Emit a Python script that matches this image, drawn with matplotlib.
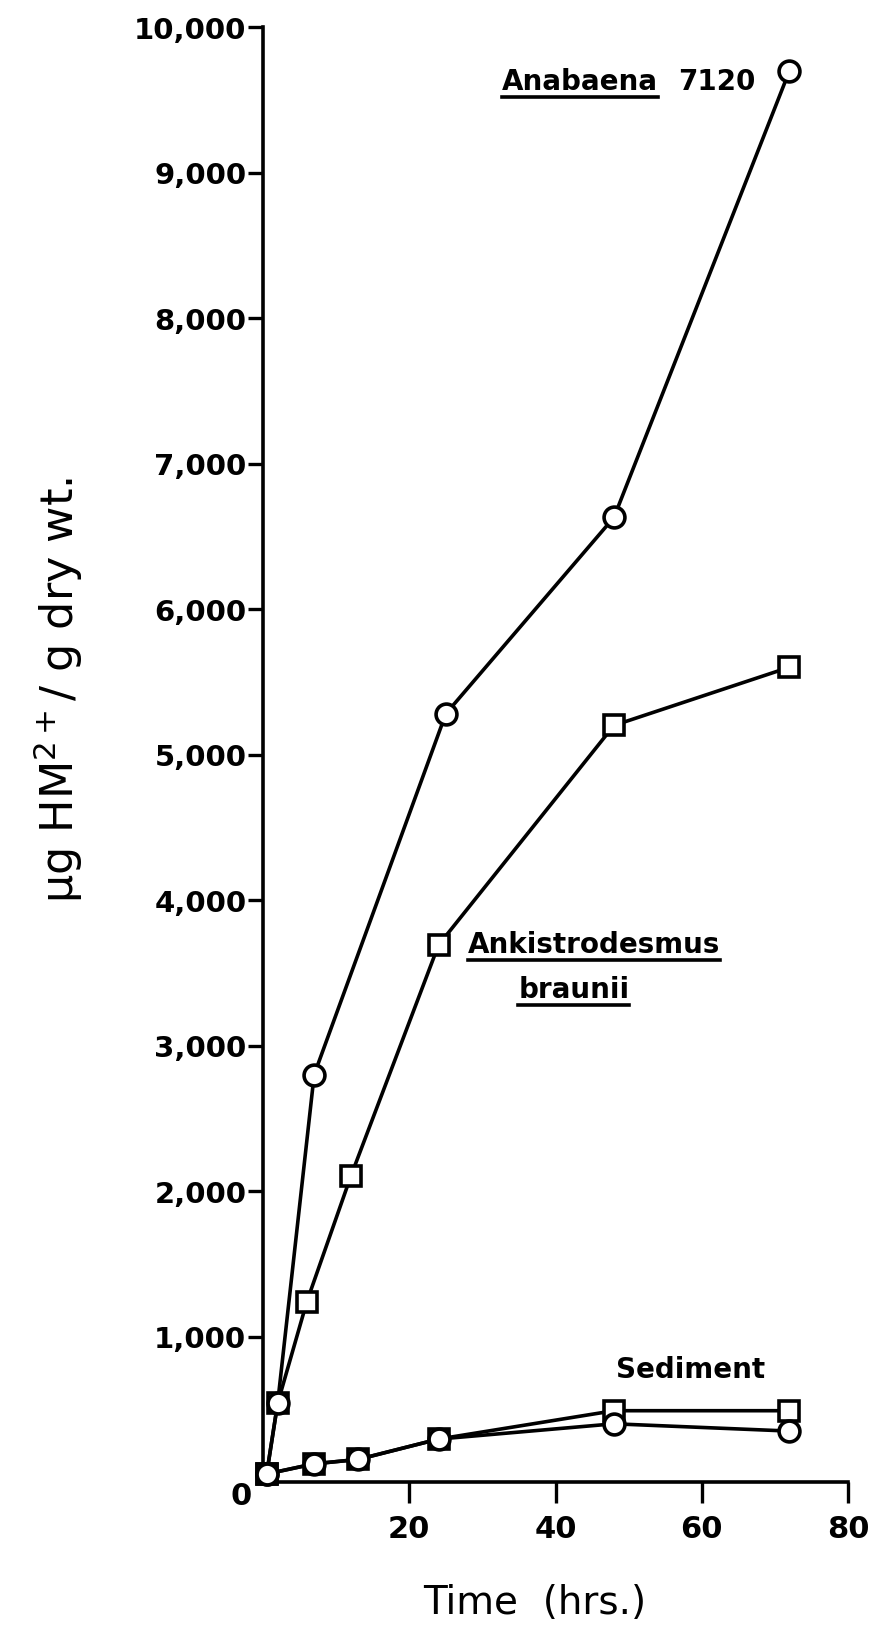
import matplotlib
matplotlib.use("Agg")
import matplotlib.pyplot as plt
from matplotlib.lines import Line2D

# Uptake of heavy metal over time
hours_anabaena = [0.5, 2, 7, 25, 48, 72]
anabaena = [55, 540, 2800, 5280, 6630, 9700]

hours_ankis = [0.5, 2, 6, 12, 24, 48, 72]
ankistrodesmus = [55, 540, 1240, 2100, 3690, 5200, 5600]

hours_sediment = [0.5, 7, 13, 24, 48, 72]
sediment_circle = [55, 125, 155, 295, 400, 350]
sediment_square = [55, 125, 155, 295, 490, 490]

y_ticks = [1000, 2000, 3000, 4000, 5000, 6000, 7000, 8000, 9000, 10000]
y_tick_labels = ["1,000", "2,000", "3,000", "4,000", "5,000",
                 "6,000", "7,000", "8,000", "9,000", "10,000"]
x_ticks = [20, 40, 60, 80]
x_tick_labels = ["20", "40", "60", "80"]

plt.rcParams["font.family"] = ["DejaVu Sans"]

W, H = 873, 1633
fig = plt.figure(figsize=(W / 100, H / 100), dpi=100)
ax = fig.add_axes([263 / W, 1 - 1483 / H, (848 - 263) / W, (1483 - 28) / H])
ax.set_xlim(0, 80)
ax.set_ylim(0, 10000)

for s in ("top", "right"):
    ax.spines[s].set_visible(False)
for s in ("left", "bottom"):
    ax.spines[s].set_linewidth(2.6)

ax.set_yticks(y_ticks)
ax.set_yticklabels(y_tick_labels, fontweight="bold")
ax.set_xticks(x_ticks)
ax.set_xticklabels(x_tick_labels, fontweight="bold")
ax.tick_params(axis="y", length=11, width=2.4, pad=1, labelsize=21)
ax.tick_params(axis="x", length=15, width=2.4, pad=8, labelsize=22)

ax.annotate("0", xy=(0, 0), xycoords="data", xytext=(-22, -14),
            textcoords="offset pixels", ha="center", va="center",
            fontsize=22, fontweight="bold")

lw = 2.6
ms = 15
mew = 2.6
common = dict(color="black", lw=lw, markersize=ms, markeredgewidth=mew,
              markerfacecolor="white", markeredgecolor="black", clip_on=False)

ax.plot(hours_sediment, sediment_square, marker="s", zorder=3, **common)
ax.plot(hours_sediment, sediment_circle, marker="o", zorder=4, **common)
ax.plot(hours_ankis, ankistrodesmus, marker="s", zorder=3, **common)
ax.plot(hours_anabaena, anabaena, marker="o", zorder=4, **common)

label_fs = 20
t_ana = ax.text(32.7, 9630, "Anabaena", fontsize=label_fs, va="center",
                ha="left", fontweight="bold")
ax.annotate("7120", xy=(1, 0.5), xycoords=t_ana, xytext=(20, 0),
            textcoords="offset pixels", va="center", ha="left",
            fontsize=label_fs, fontweight="bold")
t_ank = ax.text(28.0, 3700, "Ankistrodesmus", fontsize=label_fs, va="center",
                ha="left", fontweight="bold")
t_bra = ax.text(42.5, 3390, "braunii", fontsize=label_fs, va="center",
                ha="center", fontweight="bold")
ax.text(48.3, 780, "Sediment", fontsize=label_fs, va="center", ha="left",
        fontweight="bold")

fig.text(58 / W, 1 - 690 / H, r"µg HM$^{2+}$/ g dry wt.", rotation=90,
         ha="center", va="center", fontsize=32)
fig.text(535 / W, 1 - 1603 / H, "Time  (hrs.)", ha="center", va="center",
         fontsize=28)

# underline the species names
fig.canvas.draw()
renderer = fig.canvas.get_renderer()
for t in (t_ana, t_ank, t_bra):
    bb = t.get_window_extent(renderer)
    y = bb.y0 - 2
    fig.add_artist(Line2D([bb.x0 / W, bb.x1 / W], [y / H, y / H],
                          transform=fig.transFigure, color="black", lw=2.6))

fig.savefig("out.png", dpi=100, facecolor="white")
